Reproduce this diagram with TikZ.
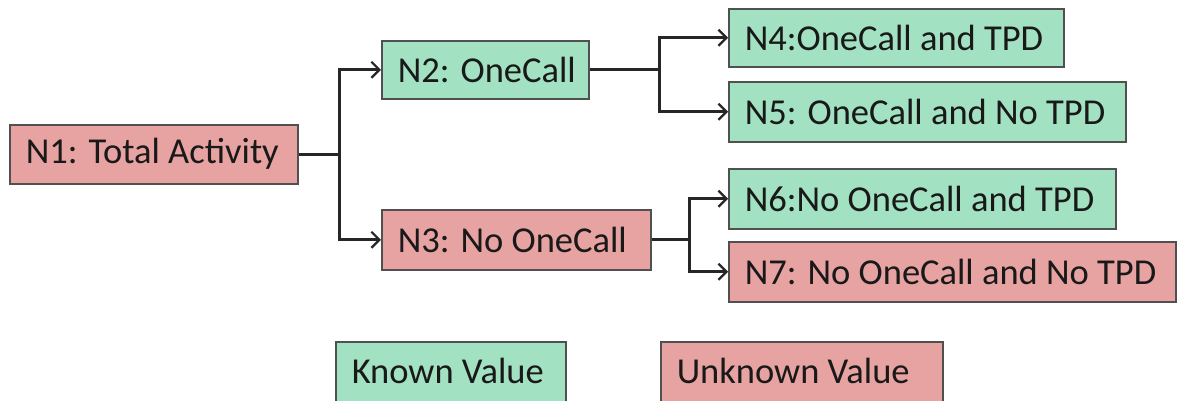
\documentclass[tikz,border=0pt]{standalone}
\usepackage{fontspec}
\setmainfont{Carlito}
\usetikzlibrary{arrows.meta,calc}
\definecolor{known}{HTML}{A2E1C1}
\definecolor{unknown}{HTML}{E7A2A2}
\definecolor{edge}{HTML}{505050}
\newcommand{\lbl}[2]{\makebox[#1][l]{\hspace{16pt}#2}}
\begin{document}
\begin{tikzpicture}[x=1pt,y=-1pt,
  box/.style={draw=edge,line width=1.5pt,anchor=north west,inner sep=0pt,font=\fontsize{36.5}{40}\selectfont,text=black!90},
  kn/.style={box,fill=known},
  un/.style={box,fill=unknown},
  conn/.style={line width=2.8pt,black!85},
  arr/.style={conn,-{Straight Barb[length=8pt,width=16pt,line width=2.2pt]}}]
\useasboundingbox (0,0) rectangle (1178,400);
\clip (0,0) rectangle (1178,400);
\node[un,minimum height=59pt] (n1) at (9,124) {\lbl{288pt}{N1: Total Activity}};
\node[kn,minimum height=58pt] (n2) at (381,40) {\lbl{207pt}{N2: OneCall}};
\node[un,minimum height=60pt] (n3) at (381,209) {\lbl{269pt}{N3: No OneCall}};
\node[kn,minimum height=58pt] (n4) at (728,8) {\lbl{335pt}{N4:OneCall and TPD}};
\node[kn,minimum height=60pt] (n5) at (728,81) {\lbl{397pt}{N5: OneCall and No TPD}};
\node[kn,minimum height=60pt] (n6) at (728,168) {\lbl{387pt}{N6:No OneCall and TPD}};
\node[un,minimum height=60pt] (n7) at (728,241) {\lbl{447pt}{N7: No OneCall and No TPD}};
\node[kn,minimum height=64pt] (k) at (335,341) {\raisebox{6pt}{\lbl{230pt}{Known Value}}};
\node[un,minimum height=64pt] (u) at (660,341) {\raisebox{6pt}{\lbl{282pt}{Unknown Value}}};
\coordinate (j1) at ($(n1.east)+(41,0)$);
\coordinate (j2) at ($(n2.east)+(70,0)$);
\coordinate (j3) at ($(n3.east)+(38,0)$);
\draw[conn] (n1.east) -- (j1);
\draw[arr] (j1) |- (n2.west);
\draw[arr] (j1) |- (n3.west);
\draw[conn] (n2.east) -- (j2);
\draw[arr] (j2) |- (n4.west);
\draw[arr] (j2) |- (n5.west);
\draw[conn] (n3.east) -- (j3);
\draw[arr] (j3) |- (n6.west);
\draw[arr] (j3) |- (n7.west);
\end{tikzpicture}
\end{document}
